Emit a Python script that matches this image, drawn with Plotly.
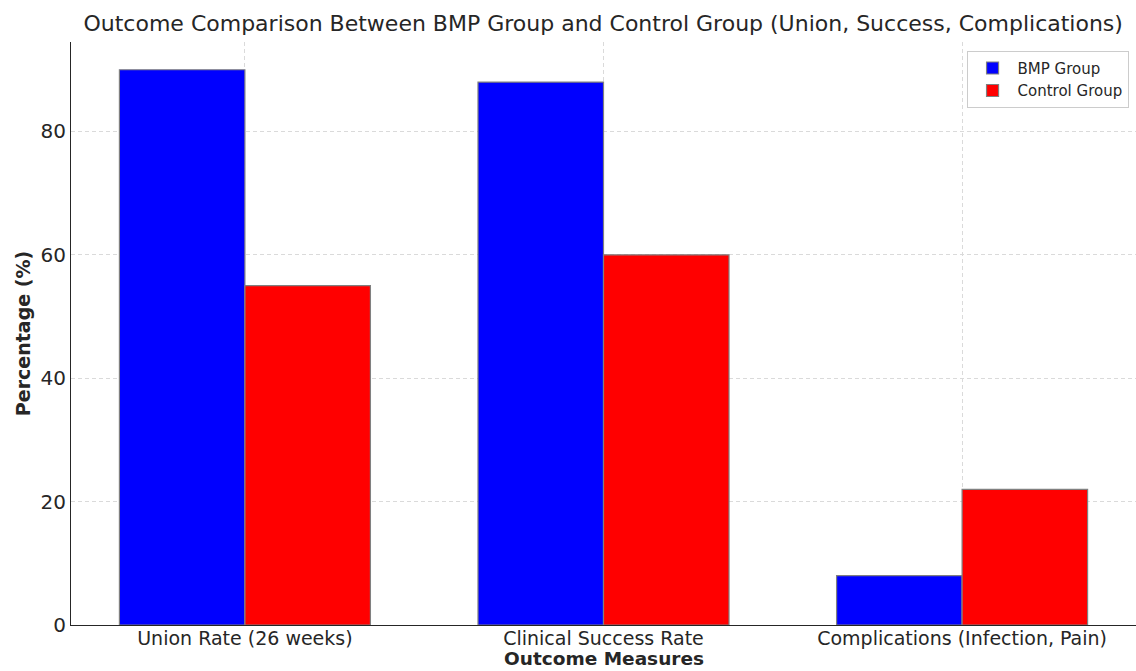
import plotly.graph_objects as go

categories = ["Union Rate (26 weeks)", "Clinical Success Rate", "Complications (Infection, Pain)"]
bmp_values = [90, 88, 8]
control_values = [55, 60, 22]
y_ticks = [0, 20, 40, 60, 80]

xpos = list(range(len(categories)))
font = "DejaVu Sans"
txt = "#262626"
grid = "#dadada"

fig = go.Figure()
fig.add_trace(go.Bar(x=xpos, y=bmp_values, name="BMP Group",
                     marker=dict(color="#0000ff", line=dict(color="#808080", width=1.2))))
fig.add_trace(go.Bar(x=xpos, y=control_values, name="Control Group",
                     marker=dict(color="#ff0000", line=dict(color="#808080", width=1.2))))

fig.update_layout(
    width=1136, height=671,
    margin=dict(l=71, r=0, t=42, b=46, autoexpand=False),
    paper_bgcolor="white", plot_bgcolor="white",
    barmode="group", bargap=0.3, bargroupgap=0,
    font=dict(family=font, color=txt),
    title=dict(text="Outcome Comparison Between BMP Group and Control Group (Union, Success, Complications)",
               x=0.531, xanchor="center", y=0.965, yanchor="middle",
               font=dict(size=22, family=font, color=txt)),
    legend=dict(x=0.993, xanchor="right", y=0.985, yanchor="top",
                bgcolor="rgba(255,255,255,0.8)", bordercolor="#cccccc", borderwidth=1,
                font=dict(size=15, family=font, color=txt), traceorder="normal",
                itemwidth=40),
    showlegend=True,
    annotations=[dict(text="<b>Outcome Measures</b>", xref="paper", yref="paper",
                      x=0.5, y=-0.058, xanchor="center", yanchor="middle", showarrow=False,
                      font=dict(size=18.5, family=font, color=txt))],
)
fig.update_xaxes(
    range=[-0.485, 2.485], tickvals=xpos, ticktext=categories,
    tickfont=dict(size=19, family=font, color=txt),
    showline=True, linecolor=txt, linewidth=1.2,
    showgrid=True, gridcolor=grid, griddash="4px,3px", gridwidth=0.8,
    ticks="", automargin=False, ticklabelstandoff=-4,
    zeroline=False, mirror=False,
)
fig.update_yaxes(
    range=[0, 94.5], tickvals=y_ticks,
    tickfont=dict(size=20, family=font, color=txt),
    showline=True, linecolor=txt, linewidth=1.2,
    showgrid=True, gridcolor=grid, griddash="4px,3px", gridwidth=0.8,
    ticks="", automargin=False,
    title=dict(text="<b>Percentage (%)</b>", font=dict(size=19, family=font, color=txt), standoff=4),
    zeroline=False, mirror=False,
)

fig.write_html("out.html", config={"displayModeBar": False},
               post_script="document.body.style.margin='0';document.body.style.padding='0';")
